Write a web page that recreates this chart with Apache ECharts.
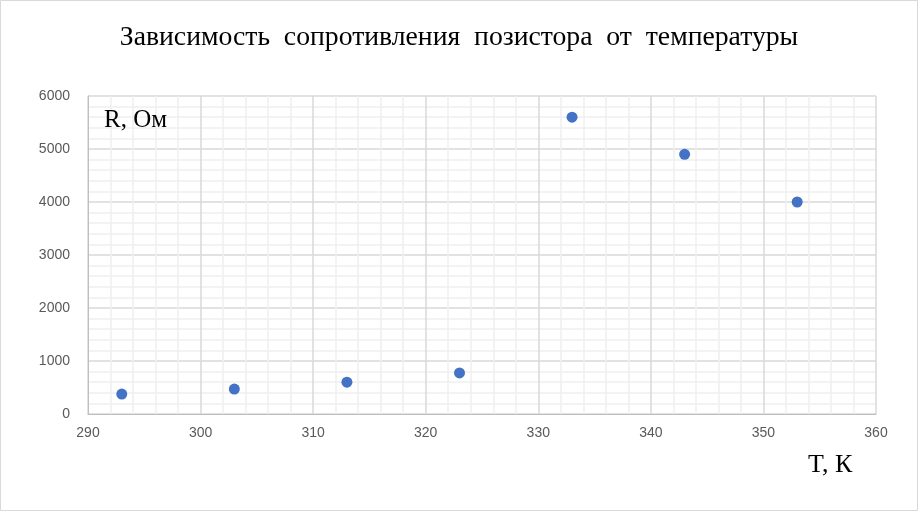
<!DOCTYPE html>
<html><head><meta charset="utf-8">
<script src="https://cdn.jsdelivr.net/npm/echarts@6/dist/echarts.min.js"></script>
<style>html,body{margin:0;padding:0;background:#fff}#c{width:918px;height:511px}</style>
</head><body><div id="c"></div>
<script>
const temperatures = [293, 303, 313, 323, 333, 343, 353];
const resistances = [377, 470, 600, 775, 5600, 4900, 4000];
const titleText = 'Зависимость  сопротивления  позистора  от  температуры';
const yName = 'R, Ом';
const xName = 'T, К';

const chart = echarts.init(document.getElementById('c'), null, {renderer: 'canvas'});
const points = temperatures.map((t, i) => [t, resistances[i]]);
chart.setOption({
  backgroundColor: '#fff',
  animation: false,
  graphic: [
    {type: 'rect', z: 0, shape: {x: 0.5, y: 0.5, width: 917, height: 510}, style: {fill: 'none', stroke: '#d9d9d9', lineWidth: 1}},
    {type: 'text', z: 100, left: 104, top: 108, style: {text: yName, fontFamily: 'Liberation Serif', fontSize: 25, fill: '#000', stroke: 'none', lineWidth: 0}},
    {type: 'text', z: 100, left: 808, top: 452, style: {text: xName, fontFamily: 'Liberation Serif', fontSize: 26, fill: '#000', stroke: 'none', lineWidth: 0}}
  ],
  title: {
    text: titleText, left: 'center', top: 19,
    textStyle: {fontFamily: 'Liberation Serif', fontSize: 27.7, fontWeight: 'normal', color: '#000'}
  },
  grid: {left: 88, right: 42, top: 96, bottom: 97, containLabel: false},
  xAxis: {
    type: 'value', min: 290, max: 360, interval: 10,
    axisLine: {show: true, lineStyle: {color: '#bfbfbf', width: 1}},
    axisTick: {show: false},
    axisLabel: {color: '#595959', fontSize: 14, fontFamily: 'Liberation Sans', margin: 12},
    splitLine: {show: true, lineStyle: {color: '#d9d9d9', width: 1.5}},
    minorTick: {show: false, splitNumber: 5},
    minorSplitLine: {show: true, lineStyle: {color: '#f0f0f0', width: 1.5}}
  },
  yAxis: {
    type: 'value', min: 0, max: 6000, interval: 1000,
    axisLine: {show: true, lineStyle: {color: '#bfbfbf', width: 1}},
    axisTick: {show: false},
    axisLabel: {color: '#595959', fontSize: 14, fontFamily: 'Liberation Sans', margin: 18, formatter: v => String(v)},
    splitLine: {show: true, lineStyle: {color: '#d9d9d9', width: 1.5}},
    minorTick: {show: false, splitNumber: 5},
    minorSplitLine: {show: true, lineStyle: {color: '#f0f0f0', width: 1.5}}
  },
  series: [{
    type: 'scatter', data: points, symbol: 'circle', symbolSize: 11,
    itemStyle: {color: '#4472C4', opacity: 1}
  }]
});
</script></body></html>
